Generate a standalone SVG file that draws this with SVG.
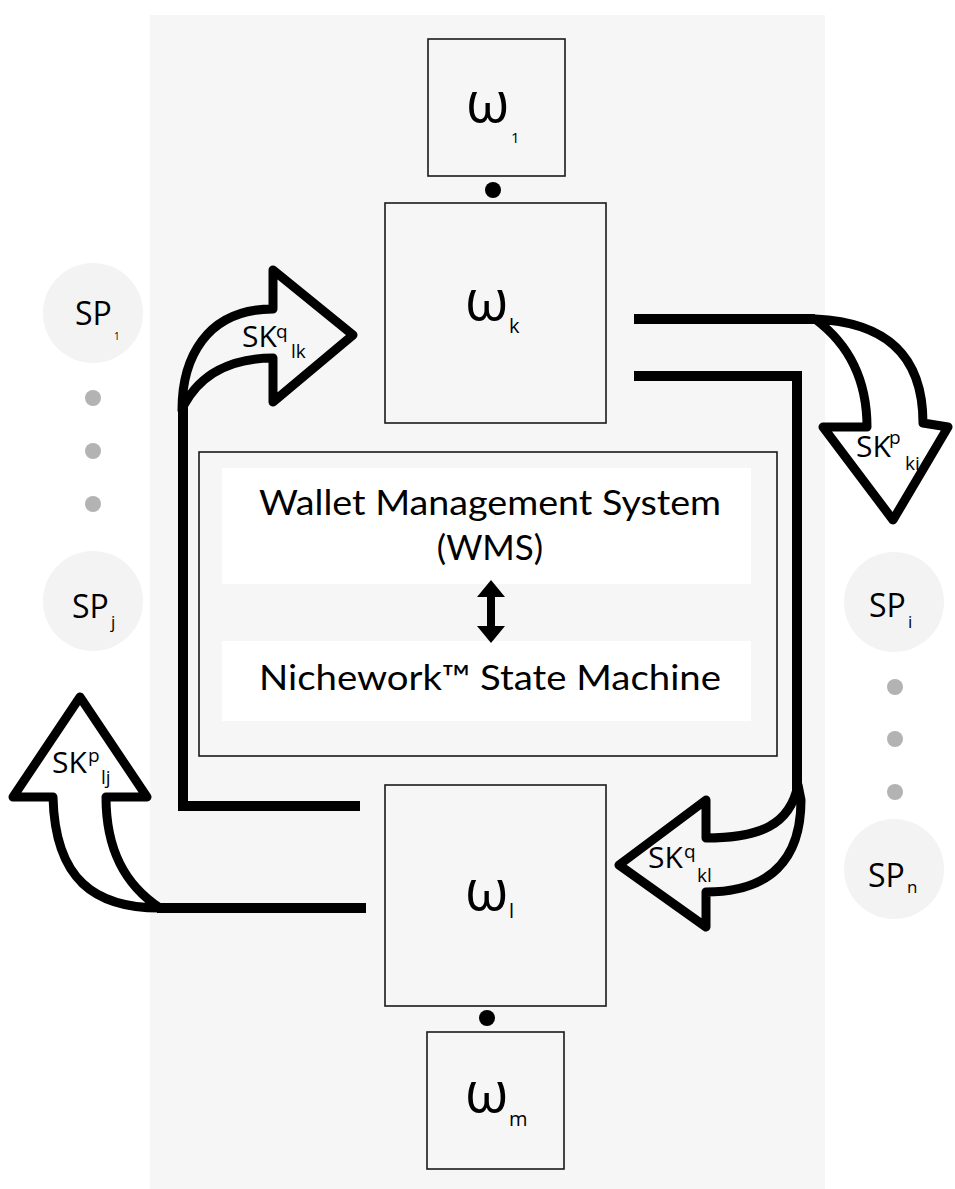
<svg xmlns="http://www.w3.org/2000/svg" width="955" height="1189" viewBox="0 0 955 1189">
  <defs>
    <style>
      .panel { fill: #f6f6f6; }
      .box { fill: #f6f6f6; stroke: #1a1a1a; stroke-width: 1.6; }
      .band { fill: #ffffff; }
      .sp { fill: #f3f3f3; }
      .gdot { fill: #b3b3b3; }
      .bdot { fill: #000000; }
      .wire { fill: none; stroke: #000000; stroke-width: 10; stroke-linecap: butt; stroke-linejoin: miter; }
      .bend { fill: none; stroke: #000000; stroke-width: 9; stroke-linejoin: round; }
      .om { font-family: "Open Sans", "DejaVu Sans", sans-serif; font-size: 56px; fill: #000; }
      .sub { font-family: "Open Sans", "DejaVu Sans", sans-serif; font-size: 20px; fill: #000; }
      .one { font-family: "Open Sans", "DejaVu Sans", sans-serif; font-size: 15px; fill: #000; }
      .spt { font-family: "Open Sans", "DejaVu Sans", sans-serif; font-size: 32px; fill: #000; }
      .sps { font-family: "Open Sans", "DejaVu Sans", sans-serif; font-size: 17px; fill: #000; }
      .sp1 { font-family: "Open Sans", "DejaVu Sans", sans-serif; font-size: 10px; fill: #000; }
      .sk { font-family: "Open Sans", "DejaVu Sans", sans-serif; font-size: 30px; fill: #000; }
      .sks { font-family: "Open Sans", "DejaVu Sans", sans-serif; font-size: 19px; fill: #000; }
      .core { font-family: "Lato", "Open Sans", sans-serif; font-size: 35px; fill: #000; text-anchor: middle; }
    </style>
  </defs>

  <!-- background panel -->
  <rect class="panel" x="150" y="15" width="675" height="1174"/>

  <!-- service providers, left column -->
  <g id="sp-1">
    <circle class="sp" cx="93" cy="313" r="50"/>
    <text class="spt" x="75" y="325">SP</text>
    <text class="sp1" x="114" y="340">1</text>
  </g>
  <g id="sp-dots-left">
    <circle class="gdot" cx="93" cy="398" r="8"/>
    <circle class="gdot" cx="93" cy="451" r="8"/>
    <circle class="gdot" cx="93" cy="504" r="8"/>
  </g>
  <g id="sp-j">
    <circle class="sp" cx="93" cy="601" r="50"/>
    <text class="spt" x="72" y="618">SP</text>
    <text class="sps" x="111" y="628">j</text>
  </g>

  <!-- service providers, right column -->
  <g id="sp-i">
    <circle class="sp" cx="894" cy="602" r="50"/>
    <text class="spt" x="869" y="617">SP</text>
    <text class="sps" x="908" y="628">i</text>
  </g>
  <g id="sp-dots-right">
    <circle class="gdot" cx="895" cy="687" r="8"/>
    <circle class="gdot" cx="895" cy="739" r="8"/>
    <circle class="gdot" cx="895" cy="792" r="8"/>
  </g>
  <g id="sp-n">
    <circle class="sp" cx="894" cy="869" r="50"/>
    <text class="spt" x="868" y="887">SP</text>
    <text class="sps" x="907" y="893">n</text>
  </g>

  <!-- wallets -->
  <g id="wallet-1">
    <rect class="box" x="428" y="39" width="137" height="137"/>
    <text class="om" x="466" y="122">ω</text>
    <text class="one" x="511" y="143">1</text>
  </g>
  <g id="wallet-k">
    <rect class="box" x="385" y="203" width="221" height="220"/>
    <text class="om" x="465" y="320">ω</text>
    <text class="sub" x="509" y="333">k</text>
  </g>
  <g id="wallet-l">
    <rect class="box" x="385" y="785" width="221" height="221"/>
    <text class="om" x="465" y="910">ω</text>
    <text class="sub" x="509" y="918">l</text>
  </g>
  <g id="wallet-m">
    <rect class="box" x="427" y="1032" width="137" height="137"/>
    <text class="om" x="465" y="1112">ω</text>
    <text class="sub" x="509" y="1126">m</text>
  </g>

  <!-- chain links between wallets -->
  <g id="links">
    <circle class="bdot" cx="493" cy="190" r="8"/>
    <circle class="bdot" cx="487" cy="1018" r="8"/>
  </g>

  <!-- wallet management system core -->
  <g id="core">
    <rect class="box" x="199" y="452" width="578" height="304"/>
    <rect class="band" x="222" y="468" width="529" height="116"/>
    <rect class="band" x="222" y="641" width="529" height="80"/>
    <text class="core" x="490" y="515" textLength="462" lengthAdjust="spacingAndGlyphs">Wallet Management System</text>
    <text class="core" x="490" y="560">(WMS)</text>
    <text class="core" x="490" y="690" textLength="462" lengthAdjust="spacingAndGlyphs">Nichework™ State Machine</text>
    <rect x="487" y="594" width="8" height="35" fill="#000"/>
    <polygon points="477,597 491,580 505,597" fill="#000"/>
    <polygon points="477,626 491,643 505,626" fill="#000"/>
  </g>

  <!-- key transfers -->
  <g id="connectors">
    <!-- left loop: wallet l back up to wallet k -->
    <polyline class="wire" points="360,806 183,806 183,405"/>
    <path class="bend" d="M182,410 C182,360 205,309 273,309 L273,270 L353,335 L273,402 L273,358 C230,358 200,375 184,405 Z"/>

    <!-- wallet l out to SP j -->
    <line class="wire" x1="366" y1="908" x2="157" y2="908"/>
    <path class="bend" d="M160,908 C95,908 55,880 53,797 L13,797 L80,697 L147,797 L106,797 C106,850 125,885 160,908 Z"/>

    <!-- wallet k out to SP i -->
    <line class="wire" x1="634" y1="319" x2="815" y2="319"/>
    <path class="bend" d="M815,319 C880,322 923,350 923,423 L948,427 L893,520 L823,427 L867,427 C867,380 850,345 815,319 Z"/>

    <!-- wallet k down to wallet l -->
    <polyline class="wire" points="634,376 797,376 797,790"/>
    <path class="bend" d="M798,785 C790,825 760,838 706,838 L706,800 L619,865 L706,927 L706,892 C770,892 801,860 801,800 Z"/>

    <!-- labels -->
    <text class="sk" x="242" y="347">SK</text>
    <text class="sks" x="276" y="338">q</text>
    <text class="sks" x="291" y="358">lk</text>

    <text class="sk" x="856" y="457">SK</text>
    <text class="sks" x="889" y="444">p</text>
    <text class="sks" x="905" y="470">ki</text>

    <text class="sk" x="648" y="868">SK</text>
    <text class="sks" x="684" y="858">q</text>
    <text class="sks" x="697" y="882">kl</text>

    <text class="sk" x="52" y="773">SK</text>
    <text class="sks" x="88" y="762">p</text>
    <text class="sks" x="101" y="784">lj</text>
  </g>
</svg>
